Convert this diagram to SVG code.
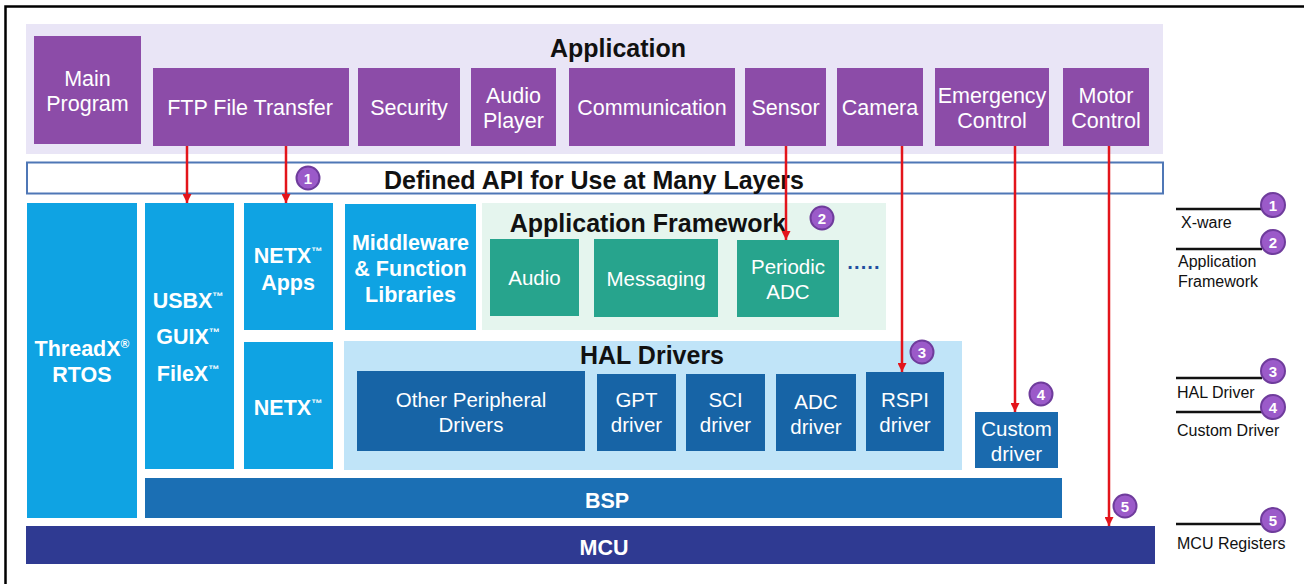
<svg xmlns="http://www.w3.org/2000/svg" width="1304" height="584" viewBox="0 0 1304 584">
<defs>
<style>
.pu{fill:#8c4ca8}
.lb{fill:#0fa3e3}
.tl{fill:#27a48d}
.db{fill:#1764a6}
.wt{fill:#fff;font-family:"Liberation Sans",Arial,sans-serif;font-size:20.5px;text-anchor:middle}
.wp{fill:#fff;font-family:"Liberation Sans",Arial,sans-serif;font-size:21.5px;text-anchor:middle}
.wb{fill:#fff;font-family:"Liberation Sans",Arial,sans-serif;font-size:21.5px;font-weight:bold;text-anchor:middle}
.tt{fill:#111;font-family:"Liberation Sans",Arial,sans-serif;font-weight:bold;text-anchor:middle;font-size:25px}
.lg{fill:#111;font-family:"Liberation Sans",Arial,sans-serif;font-size:16px}
.cn circle{fill:#9b5ac9;stroke:#6f3c9c;stroke-width:2}
.cn text{fill:#fff;font-family:"Liberation Sans",Arial,sans-serif;font-size:15px;font-weight:bold;text-anchor:middle}
.ar{stroke:#e3141b;stroke-width:2.5;fill:none;marker-end:url(#ah)}
.ll{stroke:#111;stroke-width:2.5}
</style>
<marker id="ah" markerWidth="9" markerHeight="9" refX="9" refY="4.5" orient="auto" markerUnits="userSpaceOnUse" viewBox="0 0 9 9">
<path d="M0,0 L9,4.5 L0,9 Z" fill="#e3141b"/>
</marker>
</defs>
<rect width="1304" height="584" fill="#fff"/>
<path d="M5.5,584 V6.5 H1304" fill="none" stroke="#000" stroke-width="2.5"/>

<g id="application">
<rect x="26" y="24" width="1137" height="130" fill="#e9e5f6"/>
<text class="tt" x="618" y="57">Application</text>
</g>
<g id="main-program"><rect class="pu" x="34" y="36" width="107" height="108"/><text class="wp" x="87.5" y="86">Main</text><text class="wp" x="87.5" y="111">Program</text></g>
<g id="ftp"><rect class="pu" x="153" y="68" width="196" height="78"/><text class="wp" x="250" y="115">FTP File Transfer</text></g>
<g id="security"><rect class="pu" x="358" y="68" width="102" height="78"/><text class="wp" x="409" y="115">Security</text></g>
<g id="audio-player"><rect class="pu" x="471" y="68" width="85" height="78"/><text class="wp" x="513.5" y="103">Audio</text><text class="wp" x="513.5" y="128">Player</text></g>
<g id="communication"><rect class="pu" x="569" y="68" width="166" height="78"/><text class="wp" x="652" y="115">Communication</text></g>
<g id="sensor"><rect class="pu" x="745" y="68" width="81" height="78"/><text class="wp" x="785.5" y="115">Sensor</text></g>
<g id="camera"><rect class="pu" x="837" y="68" width="86" height="78"/><text class="wp" x="880" y="115">Camera</text></g>
<g id="emergency"><rect class="pu" x="935" y="68" width="114" height="78"/><text class="wp" x="992" y="103">Emergency</text><text class="wp" x="992" y="128">Control</text></g>
<g id="motor"><rect class="pu" x="1063" y="68" width="86" height="78"/><text class="wp" x="1106" y="103">Motor</text><text class="wp" x="1106" y="128">Control</text></g>

<g id="api">
<rect x="27" y="162.5" width="1136" height="31" fill="#fff" stroke="#4f77b6" stroke-width="2"/>
<text class="tt" x="594" y="189">Defined API for Use at Many Layers</text>
</g>

<g id="threadx"><rect class="lb" x="27" y="203" width="110" height="315"/><text class="wb" x="82" y="356">ThreadX<tspan font-size="12" dy="-8">®</tspan></text><text class="wb" x="82" y="382">RTOS</text></g>
<g id="usbx"><rect class="lb" x="145" y="203" width="89" height="266"/><text class="wb" x="188" y="308">USBX<tspan font-size="11" dy="-8">™</tspan></text><text class="wb" x="188" y="344">GUIX<tspan font-size="11" dy="-8">™</tspan></text><text class="wb" x="188" y="381">FileX<tspan font-size="11" dy="-8">™</tspan></text></g>
<g id="netx-apps"><rect class="lb" x="244" y="203" width="89" height="127"/><text class="wb" x="288" y="263">NETX<tspan font-size="11" dy="-8">™</tspan></text><text class="wb" x="288" y="290">Apps</text></g>
<g id="netx"><rect class="lb" x="244" y="342" width="89" height="127"/><text class="wb" x="288" y="415">NETX<tspan font-size="11" dy="-8">™</tspan></text></g>
<g id="middleware"><rect class="lb" x="345" y="204" width="131" height="126"/><text class="wb" x="410.5" y="250">Middleware</text><text class="wb" x="410.5" y="276">&amp; Function</text><text class="wb" x="410.5" y="302">Libraries</text></g>

<g id="app-framework">
<rect x="482" y="203" width="404" height="127" fill="#e5f5ee"/>
<text class="tt" x="648" y="232">Application Framework</text>
<text x="864" y="274" fill="#1f4ea0" font-family="Liberation Sans,Arial,sans-serif" font-size="20" font-weight="bold" text-anchor="middle">·····</text>
</g>
<g id="audio"><rect class="tl" x="490" y="239" width="89" height="77"/><text class="wt" x="534.5" y="285">Audio</text></g>
<g id="messaging"><rect class="tl" x="594" y="239" width="124" height="78"/><text class="wt" x="656" y="286">Messaging</text></g>
<g id="periodic-adc"><rect class="tl" x="737" y="240" width="102" height="77"/><text class="wt" x="788" y="274">Periodic</text><text class="wt" x="788" y="299">ADC</text></g>

<g id="hal">
<rect x="344" y="341" width="618" height="129" fill="#c0e4f8"/>
<text class="tt" x="652" y="364">HAL Drivers</text>
</g>
<g id="other-drivers"><rect class="db" x="357" y="371" width="228" height="80"/><text class="wt" x="471" y="407">Other Peripheral</text><text class="wt" x="471" y="432">Drivers</text></g>
<g id="gpt"><rect class="db" x="597" y="374" width="79" height="77"/><text class="wt" x="636.5" y="407">GPT</text><text class="wt" x="636.5" y="432">driver</text></g>
<g id="sci"><rect class="db" x="686" y="374" width="79" height="77"/><text class="wt" x="725.5" y="407">SCI</text><text class="wt" x="725.5" y="432">driver</text></g>
<g id="adc"><rect class="db" x="776" y="374" width="80" height="77"/><text class="wt" x="816" y="409">ADC</text><text class="wt" x="816" y="434">driver</text></g>
<g id="rspi"><rect class="db" x="866" y="372" width="78" height="79"/><text class="wt" x="905" y="407">RSPI</text><text class="wt" x="905" y="432">driver</text></g>
<g id="custom"><rect x="975" y="412" width="83" height="56" fill="#1a6aae"/><text class="wt" x="1016.5" y="436">Custom</text><text class="wt" x="1016.5" y="461">driver</text></g>

<g id="bsp"><rect x="145" y="478" width="917" height="40" fill="#1b6fb4"/><text class="wb" x="607" y="508" font-size="26">BSP</text></g>
<g id="mcu"><rect x="26" y="526" width="1129" height="38" fill="#2f3a92"/><text class="wb" x="604" y="555" font-size="26">MCU</text></g>

<g id="connectors">
<line class="ar" x1="187" y1="146" x2="187" y2="203"/>
<line class="ar" x1="286" y1="146" x2="286" y2="203"/>
<line class="ar" x1="786" y1="146" x2="786" y2="240"/>
<line class="ar" x1="902" y1="146" x2="902" y2="372"/>
<line class="ar" x1="1015" y1="146" x2="1015" y2="412"/>
<line class="ar" x1="1109" y1="146" x2="1109" y2="526"/>
</g>

<g id="badges" class="cn">
<g><circle cx="308" cy="178" r="11.5"/><text x="308" y="183.5">1</text></g>
<g><circle cx="822" cy="218" r="11.5"/><text x="822" y="223.5">2</text></g>
<g><circle cx="922" cy="352" r="11.5"/><text x="922" y="357.5">3</text></g>
<g><circle cx="1041" cy="394" r="11.5"/><text x="1041" y="399.5">4</text></g>
<g><circle cx="1125" cy="506" r="11.5"/><text x="1125" y="511.5">5</text></g>
</g>

<g id="legend">
<line class="ll" x1="1176" y1="209" x2="1262" y2="209"/>
<line class="ll" x1="1176" y1="249" x2="1262" y2="249"/>
<line class="ll" x1="1176" y1="378" x2="1262" y2="378"/>
<line class="ll" x1="1176" y1="412" x2="1262" y2="412"/>
<line class="ll" x1="1176" y1="524" x2="1262" y2="524"/>
<g class="cn">
<g><circle cx="1273" cy="205" r="12"/><text x="1273" y="210.5">1</text></g>
<g><circle cx="1273" cy="242" r="12"/><text x="1273" y="247.5">2</text></g>
<g><circle cx="1273" cy="371" r="12"/><text x="1273" y="376.5">3</text></g>
<g><circle cx="1273" cy="407" r="12"/><text x="1273" y="412.5">4</text></g>
<g><circle cx="1273" cy="520" r="12"/><text x="1273" y="525.5">5</text></g>
</g>
<text class="lg" x="1181" y="228">X-ware</text>
<text class="lg" x="1178" y="267">Application</text>
<text class="lg" x="1178" y="287">Framework</text>
<text class="lg" x="1177" y="398">HAL Driver</text>
<text class="lg" x="1177" y="436">Custom Driver</text>
<text class="lg" x="1177" y="549">MCU Registers</text>
</g>
</svg>
